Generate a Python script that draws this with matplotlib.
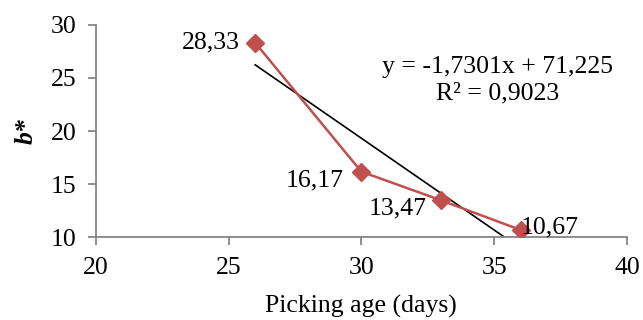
import numpy as np
import matplotlib.pyplot as plt
import matplotlib as mpl

mpl.rcParams['font.family'] = ['Liberation Serif', 'DejaVu Serif']
mpl.rcParams['font.size'] = 18.5

days = np.array([26, 30, 33, 36])
b_star = np.array([28.33, 16.17, 13.47, 10.67])
point_labels = ["28,33", "16,17", "13,47", "10,67"]
slope, intercept = -1.7301, 71.225

fig = plt.figure(figsize=(6.43, 3.2), dpi=100)
ax = fig.add_axes([0.149, 0.259, 0.826, 0.663])

# trendline (clipped by the axes)
tx = np.array([days.min(), days.max()])
ax.plot(tx, slope * tx + intercept, color='black', lw=1.2, zorder=2)
ax.plot(days, b_star, color='#C0504D', lw=1.8, marker='D', ms=9, zorder=3)

# label offsets in points
offsets = [(-11, 0, 'right'), (-13, -6, 'right'),
           (-10, -6, 'right'), (0, 2, 'left')]
for x, y, t, (dx, dy, ha) in zip(days, b_star, point_labels, offsets):
    ax.annotate(t, (x, y), xytext=(dx, dy), textcoords='offset points',
                ha=ha, va='center', zorder=4)

ax.text(0.757, 0.74, "y = -1,7301x + 71,225\nR² = 0,9023", transform=ax.transAxes,
        ha='center', va='center', linespacing=1.3)

ax.set_xlim(20, 40)
ax.set_ylim(10, 30)
ax.set_xticks([20, 25, 30, 35, 40])
ax.set_yticks([10, 15, 20, 25, 30])
for s in ['top', 'right']:
    ax.spines[s].set_visible(False)
for s in ['left', 'bottom']:
    ax.spines[s].set_color('#868686')
    ax.spines[s].set_linewidth(1.3)
ax.tick_params(color='#868686', width=1.3, length=6, direction='out', pad=8)
ax.set_xlabel("Picking age (days)", labelpad=12)
ax.set_ylabel("b*", fontweight='bold', fontstyle='italic', labelpad=9)

fig.savefig("out.png", dpi=100)
